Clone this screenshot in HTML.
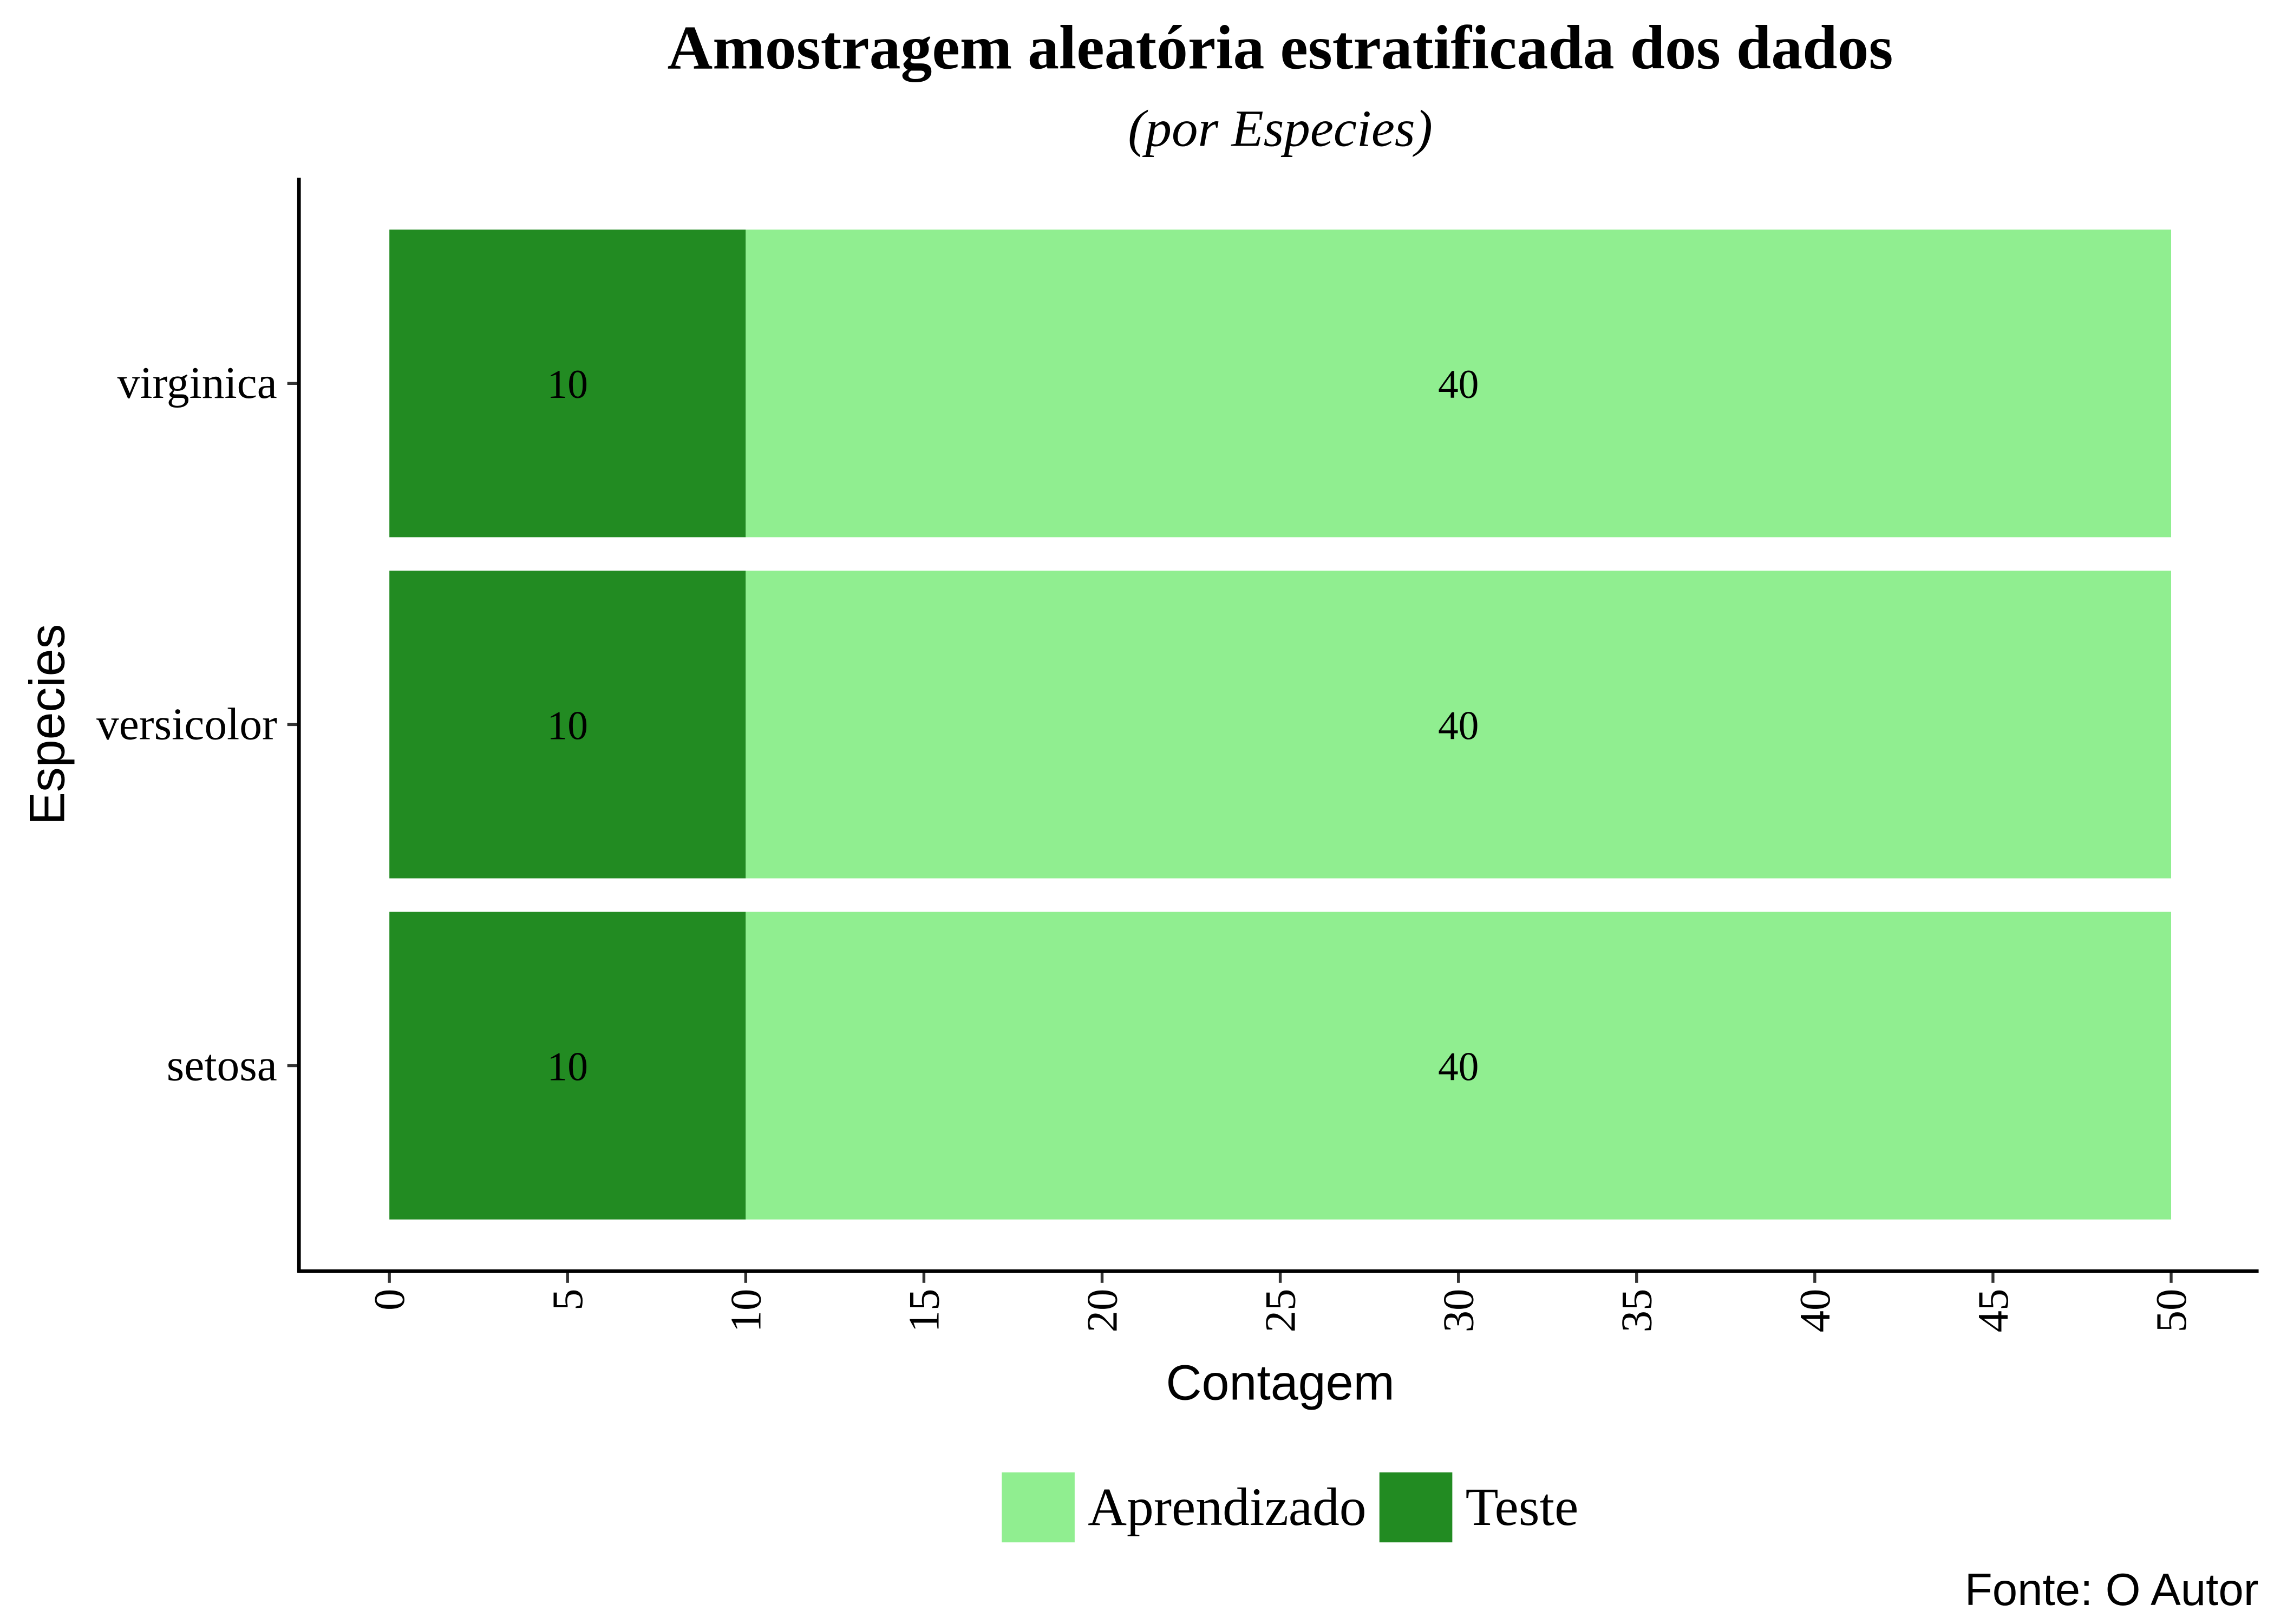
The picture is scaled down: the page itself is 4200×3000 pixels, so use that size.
<!DOCTYPE html>
<html><head><meta charset="utf-8"><style>html,body{margin:0;padding:0;background:#fff}svg{display:block}</style></head>
<body>
<svg id="chart" width="4200" height="3000" viewBox="0 0 1559.5 1114" xmlns="http://www.w3.org/2000/svg">
<rect width="1559.5" height="1114" fill="#fff"/>
<text x="878" y="47" text-anchor="middle" font-family="Liberation Serif, serif" font-weight="bold" font-size="43">Amostragem aleatória estratificada dos dados</text>
<text x="878" y="100" text-anchor="middle" font-family="Liberation Serif, serif" font-style="italic" font-size="36">(por Especies)</text>
<g id="plot"></g>
<line x1="205" y1="122" x2="205" y2="873" stroke="#000" stroke-width="2.5"/>
<line x1="204" y1="872" x2="1549" y2="872" stroke="#000" stroke-width="2.5"/>
<text x="878" y="960" text-anchor="middle" font-family="Liberation Sans, sans-serif" font-size="34">Contagem</text>
<text transform="translate(44,497) rotate(-90)" text-anchor="middle" font-family="Liberation Sans, sans-serif" font-size="34">Especies</text>
<g>
<rect x="687" y="1010" width="50" height="48" fill="#90EE90"/>
<text x="746" y="1046" font-family="Liberation Serif, serif" font-size="37">Aprendizado</text>
<rect x="946" y="1010" width="50" height="48" fill="#228B22"/>
<text x="1005" y="1046" font-family="Liberation Serif, serif" font-size="37">Teste</text>
</g>
<text x="1549" y="1101" text-anchor="end" font-family="Liberation Sans, sans-serif" font-size="31">Fonte: O Autor</text>
</svg>
<script>
const categories = ["setosa", "versicolor", "virginica"];
const testeValues = [10, 10, 10];
const aprendizadoValues = [40, 40, 40];
const xTicks = [0, 5, 10, 15, 20, 25, 30, 35, 40, 45, 50];

const NS = "http://www.w3.org/2000/svg";
const g = document.getElementById("plot");
const x = v => 267 + v * (1489 - 267) / 50;
const yCenter = i => 731 - i * 234;
const bandH = 211;
function mk(tag, attrs) {
  const e = document.createElementNS(NS, tag);
  for (const k in attrs) e.setAttribute(k, attrs[k]);
  g.appendChild(e);
  return e;
}
categories.forEach((c, i) => {
  const yc = yCenter(i);
  const t = testeValues[i], a = aprendizadoValues[i];
  const r1 = mk("rect", {x: x(0), y: yc - bandH / 2, width: x(t) - x(0), height: bandH, fill: "#228B22"});
  
  
  const r2 = mk("rect", {x: x(t), y: yc - bandH / 2, width: x(t + a) - x(t), height: bandH, fill: "#90EE90"});
  
  
  const l1 = mk("text", {x: x(t / 2), y: yc + 10, "text-anchor": "middle", "font-family": "Liberation Serif, serif", "font-size": "28"});
  l1.textContent = t;
  
  
  const l2 = mk("text", {x: x(t + a / 2), y: yc + 10, "text-anchor": "middle", "font-family": "Liberation Serif, serif", "font-size": "28"});
  l2.textContent = a;
  
  
  const tk = mk("line", {x1: 197, x2: 205, y1: yc, y2: yc, stroke: "#333", "stroke-width": 2});
  
  
  const yl = mk("text", {x: 190, y: yc + 10, "text-anchor": "end", "font-family": "Liberation Serif, serif", "font-size": "31"});
  yl.textContent = c;
  
  
});
xTicks.forEach(v => {
  const tk = mk("line", {x1: x(v), x2: x(v), y1: 873, y2: 880, stroke: "#333", "stroke-width": 2});
  
  
  const tl = mk("text", {transform: "translate(" + (x(v) + 10) + ",884) rotate(-90)", "text-anchor": "end", "font-family": "Liberation Serif, serif", "font-size": "30"});
  tl.textContent = v;
  
  
});
</script>
</body></html>
